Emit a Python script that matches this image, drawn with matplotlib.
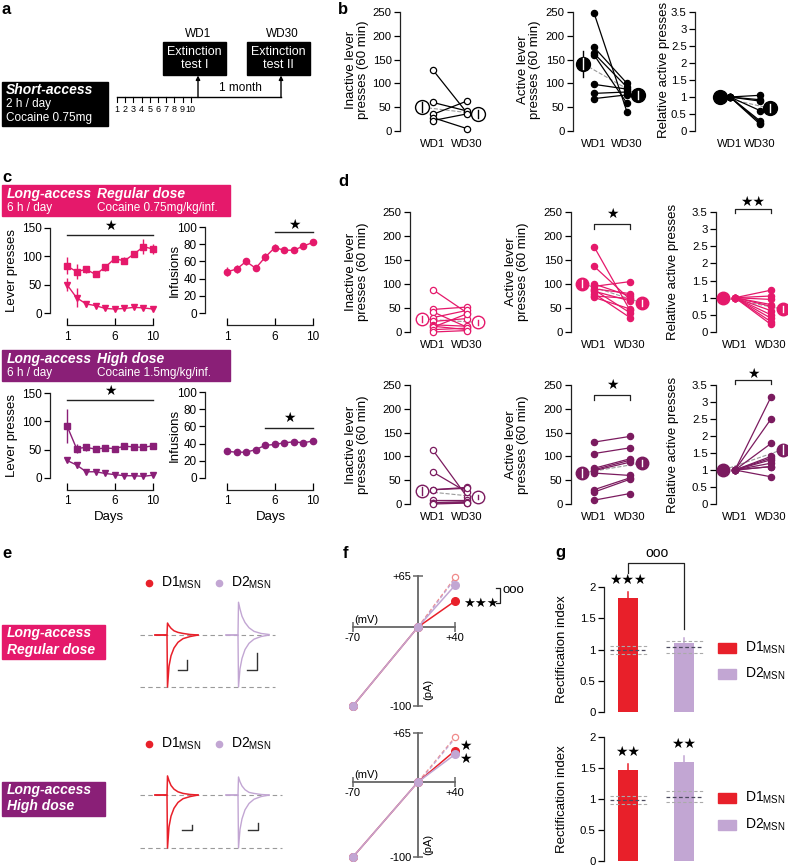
import matplotlib
matplotlib.use('Agg')
import matplotlib.pyplot as plt
from matplotlib.patches import Rectangle

# figure in pixel units (dpi 100)
W, H = 788, 868
plt.rcParams['font.family'] = ['Liberation Sans', 'DejaVu Sans']
plt.rcParams['font.size'] = 9
plt.rcParams['axes.linewidth'] = 0.9
plt.rcParams['axes.edgecolor'] = '#222222'

PINK = '#E5196B'
PURPLE = '#8A1F77'
DPURPLE = '#7B1B5F'
RED = '#E8202A'
LAV = '#C2A6D3'
DGREY = '#9a9a9a'
STAR = 'DejaVu Sans'
TICK_FS = 8.2

# ---- data ----
train_days = list(range(1, 11))
days = list(range(1, 11))

# b: short access
b_inact_wd1 = [128, 60, 35, 28, 22]
b_inact_wd30 = [38, 42, 63, 5, 36]
b_inact_mean = [50, 36]
b_inact_sem = [10, 8]
b_act_wd1 = [248, 176, 163, 160, 98, 79, 68]
b_act_wd30 = [40, 100, 92, 58, 88, 82, 76]
b_act_mean = [141, 76]
b_act_sem = [28, 8]
b_rel_wd1 = [1, 1, 1, 1, 1, 1, 1]
b_rel_wd30 = [1.05, 0.92, 0.88, 0.6, 0.3, 0.25, 0.2]
b_rel_mean = [1, 0.67]
b_rel_sem = [0, 0.12]

# c: acquisition
reg_active = [83, 73, 77, 68, 81, 96, 92, 104, 117, 113]
reg_active_err = [15, 13, 6, 4, 6, 5, 6, 6, 13, 8]
reg_inactive = [50, 27, 16, 13, 8, 7, 8, 10, 9, 7]
reg_inactive_err = [12, 17, 6, 3, 3, 2, 2, 2, 2, 2]
reg_inf = [48, 51, 60, 52, 65, 76, 73, 73, 78, 82]
reg_inf_err = [5, 5, 4, 3, 5, 4, 3, 3, 3, 3]
high_active = [92, 52, 54, 51, 53, 52, 56, 55, 54, 57]
high_active_err = [30, 8, 6, 4, 4, 4, 4, 3, 3, 3]
high_inactive = [31, 23, 11, 11, 8, 6, 4, 4, 3, 5]
high_inactive_err = [3, 5, 3, 2, 2, 2, 2, 1, 2, 2]
high_inf = [31, 30, 30, 33, 38, 39, 41, 42, 41, 43]
high_inf_err = [2, 2, 2, 2, 2, 2, 2, 2, 2, 2]

# d: long access
d_reg_inact_wd1 = [88, 47, 42, 30, 22, 15, 12, 10, 5, 0]
d_reg_inact_wd30 = [40, 52, 10, 45, 28, 12, 5, 38, 8, 3]
d_reg_inact_mean = [27, 20]
d_reg_inact_sem = [6, 5]
d_reg_act_wd1 = [178, 137, 100, 95, 90, 88, 85, 80, 75, 72]
d_reg_act_wd30 = [45, 68, 75, 105, 80, 40, 65, 30, 70, 48]
d_reg_act_mean = [101, 61]
d_reg_act_sem = [8, 6]
d_reg_rel_wd1 = [1] * 10
d_reg_rel_wd30 = [1.22, 1.05, 0.95, 0.8, 0.75, 0.62, 0.5, 0.4, 0.3, 0.22]
d_reg_rel_mean = [1, 0.67]
d_reg_rel_sem = [0, 0.1]

d_high_inact_wd1 = [113, 67, 30, 30, 8, 3, 2, 0]
d_high_inact_wd30 = [15, 25, 35, 33, 8, 5, 3, 2]
d_high_inact_mean = [27, 15]
d_high_inact_sem = [8, 4]
d_high_act_wd1 = [130, 106, 75, 72, 70, 65, 30, 25, 8]
d_high_act_wd30 = [142, 118, 95, 92, 88, 60, 55, 52, 22]
d_high_act_mean = [65, 86]
d_high_act_sem = [8, 7]
d_high_rel_wd1 = [1] * 10
d_high_rel_wd30 = [3.15, 2.5, 1.78, 1.4, 1.35, 1.3, 1.2, 1.1, 1.1, 0.8]
d_high_rel_mean = [1, 1.6]
d_high_rel_sem = [0, 0.15]

# e: example EPSCs (normalised to the -70 mV peak)
trace_t = [-12, 0, 0.5, 2, 4, 7, 11, 16, 23, 31]
d1_neg = [0, 0, -1.0, -0.6, -0.4, -0.25, -0.14, -0.07, -0.03, 0]
d2_neg = [0, 0, -1.0, -0.65, -0.45, -0.28, -0.16, -0.08, -0.03, 0]
d1_reg_pos = [0, 0, 0.23, 0.18, 0.13, 0.08, 0.05, 0.03, 0.01, 0]
d2_reg_pos = [0, 0, 0.63, 0.5, 0.36, 0.24, 0.14, 0.07, 0.03, 0.01]
d1_high_pos = [0, 0, 0.36, 0.27, 0.18, 0.11, 0.06, 0.03, 0.01, 0]
d2_high_pos = [0, 0, 0.34, 0.25, 0.17, 0.1, 0.05, 0.03, 0.01, 0]

# f: I-V
iv_mv = [-70, 0, 40]
iv_reg_d1 = [-100, 0, 33]
iv_reg_d2 = [-100, 0, 53]
iv_reg_ctrl = [0, 63]
iv_high_d1 = [-100, 0, 42]
iv_high_d2 = [-100, 0, 37]
iv_high_ctrl = [0, 60]

# g: rectification index
g_groups = ['D1', 'D2']
g_reg = [1.82, 1.10]
g_reg_sem = [0.1, 0.08]
g_high = [1.46, 1.59]
g_high_sem = [0.1, 0.1]
ctrl_ri = [0.99, 1.04]
ctrl_ri_sem = [0.065, 0.095]

fig = plt.figure(figsize=(W / 100, H / 100), dpi=100)

ov = fig.add_axes([0, 0, 1, 1])
ov.set_xlim(0, W)
ov.set_ylim(H, 0)
ov.axis('off')


def add_px(left, top, width, height):
    ax = fig.add_axes([left / W, 1 - (top + height) / H, width / W, height / H])
    ax.patch.set_visible(False)
    return ax


def left_only(ax, ymax, yticks, ylabels=None):
    for s in ['top', 'right', 'bottom']:
        ax.spines[s].set_visible(False)
    ax.spines['left'].set_bounds(0, ymax)
    ax.set_ylim(0, ymax)
    ax.set_yticks(yticks)
    if ylabels is not None:
        ax.set_yticklabels(ylabels)
    ax.tick_params(axis='y', length=4, width=0.9, pad=2, labelsize=TICK_FS)


MO = 0.32


def pair_panel(spine, wd1, wd30, right, top, bottom, ymax, yticks, ylabels,
               v1, v30, mean, sem, color, filled, ms_mean=10):
    unit = wd30 - wd1
    ax = add_px(spine, top, right - spine, bottom - top)
    ax.set_xlim(-(wd1 - spine) / unit, (right - wd1) / unit)
    left_only(ax, ymax, yticks, ylabels)
    ax.set_xticks([0, 1])
    ax.set_xticklabels(['WD1', 'WD30'])
    ax.tick_params(axis='x', length=0, pad=6, labelsize=TICK_FS)
    for a, b in zip(v1, v30):
        ax.plot([0, 1], [a, b], color=color, lw=0.9, marker='o', ms=4.5,
                mfc=color if filled else 'white', mec=color, mew=0.9,
                clip_on=False, zorder=2)
    xs = [-MO, 1 + MO]
    ax.plot(xs, mean, ls='--', color=DGREY, lw=0.8, zorder=1)
    r = (ms_mean / 72 * 100 / 2 - 1.5) * ymax / (bottom - top)
    for x, m, e in zip(xs, mean, sem):
        if e > 0:
            ax.plot([x, x], [m - e, m + e], color=color, lw=1, zorder=3, clip_on=False)
        ax.plot(x, m, 'o', ms=ms_mean, mfc=color if filled else 'white', mec=color,
                mew=1, zorder=4, clip_on=False)
        if e > 0:
            inner = min(e, r)
            ax.plot([x, x], [m - inner, m + inner], color='white' if filled else color,
                    lw=1, zorder=5, clip_on=False)
    return ax


def bracket(ax, y0, y1, label, ly, fs=10):
    ax.plot([0, 0, 1, 1], [y0, y1, y1, y0], color='#222222', lw=0.9, clip_on=False)
    ax.text(0.5, ly, label, ha='center', va='center', fontsize=fs, family=STAR)


# ---- panel labels ----
for lab, x, y in [('a', 2, 10), ('b', 338, 9), ('c', 2, 178), ('d', 338, 182),
                  ('e', 2, 553), ('f', 343, 553), ('g', 555, 553)]:
    ov.text(x, y, lab, fontsize=12, fontweight='bold', va='center', ha='left')

# ---- a: schedule ----
ov.add_patch(Rectangle((2, 82), 106, 44, color='black'))
ov.text(6, 90, 'Short-access', color='white', fontsize=10, fontweight='bold',
        style='italic', va='center')
ov.text(6, 104, '2 h / day', color='white', fontsize=8.5, va='center')
ov.text(6, 118, 'Cocaine 0.75mg', color='white', fontsize=8.5, va='center')
for x0, lab, top_lab in [(163, 'Extinction\ntest I', 'WD1'), (247, 'Extinction\ntest II', 'WD30')]:
    ov.add_patch(Rectangle((x0, 42), 63, 33, color='black'))
    ov.text(x0 + 31.5, 58.5, lab, color='white', fontsize=9, ha='center', va='center',
            linespacing=1.05)
    ov.text(x0 + 35, 34, top_lab, fontsize=8.5, ha='center', va='center')
tick_x = [117 + (d - 1) * 8.2 for d in train_days]
ov.plot([tick_x[0], 281], [97, 97], color='black', lw=1)
for x, d in zip(tick_x, train_days):
    ov.plot([x, x], [97, 101.5], color='black', lw=0.8)
    ov.text(x, 110, str(d), fontsize=6.5, ha='center', va='center')
for x in [198, 281]:
    ov.annotate('', xy=(x, 75.5), xytext=(x, 97.5),
                arrowprops=dict(arrowstyle='-|>', color='black', lw=1, mutation_scale=6,
                                shrinkA=0, shrinkB=0))
ov.text(240, 88, '1 month', fontsize=8.5, ha='center', va='center')

# ---- b ----
pair_panel(400, 433, 467, 492, 12, 131, 250, range(0, 251, 50), None,
           b_inact_wd1, b_inact_wd30, b_inact_mean, b_inact_sem, 'black', False)
pair_panel(573, 594, 627, 650, 12, 131, 250, range(0, 251, 50), None,
           b_act_wd1, b_act_wd30, b_act_mean, b_act_sem, 'black', True)
rel_ticks = [0, 0.5, 1, 1.5, 2, 2.5, 3, 3.5]
rel_labels = ['0', '0.5', '1', '1.5', '2', '2.5', '3', '3.5']
pair_panel(695, 730, 760, 785, 12, 131, 3.5, rel_ticks, rel_labels,
           b_rel_wd1, b_rel_wd30, b_rel_mean, b_rel_sem, 'black', True)
ov.text(357, 70, 'Inactive lever\npresses (60 min)', rotation=90, ha='center', va='center',
        fontsize=9.5, linespacing=1.1)
ov.text(529, 70, 'Active lever\npresses (60 min)', rotation=90, ha='center', va='center',
        fontsize=9.5, linespacing=1.1)
ov.text(664, 70, 'Relative active presses', rotation=90, ha='center', va='center', fontsize=9.5)

# ---- c ----
def course_axes(spine, d1, d10, right, top, bottom, ymax, yticks):
    unit = (d10 - d1) / 9
    ax = add_px(spine, top, right - spine, bottom - top)
    ax.set_xlim(1 - (d1 - spine) / unit, 10 + (right - d10) / unit)
    ax.set_ylim(0, ymax)
    for s in ['top', 'right']:
        ax.spines[s].set_visible(False)
    ax.spines['left'].set_bounds(0, ymax)
    ax.spines['bottom'].set_position(('outward', 8.6))
    ax.spines['bottom'].set_bounds(1, 10)
    ax.set_xticks([1, 6, 10])
    ax.set_yticks(yticks)
    ax.tick_params(axis='x', direction='in', length=5, width=0.9, pad=4, labelsize=8.5)
    ax.tick_params(axis='y', length=4, width=0.9, pad=2, labelsize=8.5)
    return ax


def star_bar(ax, x0, x1, y, ys):
    ax.plot([x0, x1], [y, y], color='#222222', lw=1, clip_on=False)
    ax.text((x0 + x1) / 2, ys, '\u2605', ha='center', va='center', fontsize=10, family=STAR)


for top_box, color, dose, coc, (act, act_e, ina, ina_e, inf, inf_e), t1, b1, t2, b2, s1, s2 in [
        (185, PINK, 'Regular dose', 'Cocaine 0.75mg/kg/inf.',
         (reg_active, reg_active_err, reg_inactive, reg_inactive_err, reg_inf, reg_inf_err),
         228, 313, 227, 313, (1, 10, 137, 154), (6, 10, 94, 102)),
        (350, PURPLE, 'High dose', 'Cocaine 1.5mg/kg/inf.',
         (high_active, high_active_err, high_inactive, high_inactive_err, high_inf, high_inf_err),
         393, 478, 392, 478, (1, 10, 137, 154), (5, 10, 58, 70))]:
    ov.add_patch(Rectangle((2, top_box), 228, 31, color=color))
    ov.text(7, top_box + 9, 'Long-access', color='white', fontsize=10, fontweight='bold',
            style='italic', va='center')
    ov.text(97, top_box + 9, dose, color='white', fontsize=10, fontweight='bold',
            style='italic', va='center')
    ov.text(7, top_box + 23, '6 h / day', color='white', fontsize=8.5, va='center')
    ov.text(97, top_box + 23, coc, color='white', fontsize=8.5, va='center')

    ax = course_axes(50, 67, 153, 162, t1, b1, 150, [0, 50, 100, 150])
    ax.errorbar(days, act, yerr=act_e, color=color, marker='s', ms=4.5, lw=1,
                elinewidth=1, capsize=0, clip_on=False)
    ax.errorbar(days, ina, yerr=ina_e, color=color, marker='v', ms=5, lw=1,
                elinewidth=1, capsize=0, clip_on=False)
    star_bar(ax, *s1)
    ov.text(12, (t1 + b1) / 2, 'Lever presses', rotation=90, ha='center', va='center', fontsize=9.5)

    ax = course_axes(205, 227, 313, 322, t2, b2, 100, [0, 20, 40, 60, 80, 100])
    ax.errorbar(days, inf, yerr=inf_e, color=color, marker='o', ms=4.5, lw=1,
                elinewidth=1, capsize=0, clip_on=False)
    star_bar(ax, *s2)
    ov.text(175, (t2 + b2) / 2, 'Infusions', rotation=90, ha='center', va='center', fontsize=9.5)

ov.text(109, 517, 'Days', ha='center', va='center', fontsize=9.5)
ov.text(271, 517, 'Days', ha='center', va='center', fontsize=9.5)

# ---- d ----
for (top, bottom, color, data) in [
        (212, 332, PINK,
         [(d_reg_inact_wd1, d_reg_inact_wd30, d_reg_inact_mean, d_reg_inact_sem),
          (d_reg_act_wd1, d_reg_act_wd30, d_reg_act_mean, d_reg_act_sem),
          (d_reg_rel_wd1, d_reg_rel_wd30, d_reg_rel_mean, d_reg_rel_sem)]),
        (385, 504, DPURPLE,
         [(d_high_inact_wd1, d_high_inact_wd30, d_high_inact_mean, d_high_inact_sem),
          (d_high_act_wd1, d_high_act_wd30, d_high_act_mean, d_high_act_sem),
          (d_high_rel_wd1, d_high_rel_wd30, d_high_rel_mean, d_high_rel_sem)])]:
    a1 = pair_panel(410, 433, 467, 492, top, bottom, 250, range(0, 251, 50), None,
                    *data[0], color, False, ms_mean=9)
    a2 = pair_panel(571, 594, 630, 650, top, bottom, 250, range(0, 251, 50), None,
                    *data[1], color, True, ms_mean=9)
    a3 = pair_panel(716, 735, 771, 788, top, bottom, 3.5, rel_ticks, rel_labels,
                    *data[2], color, True, ms_mean=9)
    mid = (top + bottom) / 2
    ov.text(357, mid, 'Inactive lever\npresses (60 min)', rotation=90, ha='center',
            va='center', fontsize=9.5, linespacing=1.1)
    ov.text(517, mid, 'Active lever\npresses (60 min)', rotation=90, ha='center',
            va='center', fontsize=9.5, linespacing=1.1)
    ov.text(673, mid, 'Relative active presses', rotation=90, ha='center', va='center',
            fontsize=9.5)
    if color == PINK:
        bracket(a2, 215, 226, '\u2605', 247)
        bracket(a3, 3.48, 3.6, '\u2605\u2605', 3.78)
    else:
        bracket(a2, 219, 230, '\u2605', 251)
        bracket(a3, 3.52, 3.64, '\u2605', 3.84)

# ---- e ----
for top_box, color in [(625, PINK), (782, PURPLE)]:
    ov.add_patch(Rectangle((2, top_box), 103, 34, color=color))
lab_e = [('Long-access', 633), ('Regular dose', 650), ('Long-access', 790), ('High dose', 806)]
for txt, y in lab_e:
    ov.text(7, y, txt, color='white', fontsize=10, fontweight='bold', style='italic', va='center')

for ly in [583, 744]:
    ov.plot(149, ly, 'o', color=RED, ms=4.5)
    ov.text(161, ly, r'D1$_{\mathregular{MSN}}$', fontsize=10, va='center')
    ov.plot(219, ly, 'o', color=LAV, ms=4.5)
    ov.text(231, ly, r'D2$_{\mathregular{MSN}}$', fontsize=10, va='center')

for top, bottom, zero, unit, dash_end, d1p, d2p in [
        (595, 692, 635, 52, 135, d1_reg_pos, d2_reg_pos),
        (757, 852, 795, 53, 142, d1_high_pos, d2_high_pos)]:
    ax = add_px(140, top, 145, bottom - top)
    ax.set_xlim(0, 145)
    ax.set_ylim(-(bottom - zero) / unit, (zero - top) / unit)
    ax.axis('off')
    ax.plot([0, dash_end], [0, 0], ls='--', color=DGREY, lw=0.8, dashes=(4, 3))
    ax.plot([0, dash_end], [-1, -1], ls='--', color=DGREY, lw=0.8, dashes=(4, 3))
    for off, neg, pos, color, lw in [(27, d1_neg, d1p, RED, 1.1), (98, d2_neg, d2p, LAV, 1.0)]:
        ts = [off + t for t in trace_t]
        ax.plot(ts, neg, color=color, lw=lw)
        ax.plot(ts, pos, color=color, lw=lw)

# scale bars
for x0, x1, y0, y1 in [(178, 187, 660, 670), (247, 257, 653, 670),
                       (182, 192, 825, 830), (248, 258, 823, 830)]:
    ov.plot([x0, x1, x1], [y1, y1, y0], color='#333333', lw=1)

# ---- f ----
def iv_axes(ox, oy, sx, sy, left, right, top, bottom):
    ax = add_px(left, top, right - left, bottom - top)
    ax.set_xlim((left - ox) / sx, (right - ox) / sx)
    ax.set_ylim(-(bottom - oy) / sy, (oy - top) / sy)
    for s in ['top', 'right']:
        ax.spines[s].set_visible(False)
    ax.spines['left'].set_position(('data', 0))
    ax.spines['bottom'].set_position(('data', 0))
    ax.spines['left'].set_bounds(-100, 65)
    ax.spines['bottom'].set_bounds(-70, 40)
    for s in ['left', 'bottom']:
        ax.spines[s].set_color('#666666')
        ax.spines[s].set_linewidth(1.3)
    ax.set_xticks([-70, 40])
    ax.set_xticklabels(['-70', '+40'])
    ax.set_yticks([-100, 65])
    ax.set_yticklabels(['-100', '+65'])
    ax.tick_params(direction='inout', length=7, width=1.1, color='#666666', labelsize=8, pad=1)
    return ax


for ox, oy, sy, top, bottom, d1, d2, ctrl in [
        (418, 627, 0.79, 568, 712, iv_reg_d1, iv_reg_d2, iv_reg_ctrl),
        (418, 782, 0.75, 725, 862, iv_high_d1, iv_high_d2, iv_high_ctrl)]:
    ax = iv_axes(ox, oy, 0.93, sy, 340, 472, top, bottom)
    ax.plot([0, 40], ctrl, ls='--', color='#F08A8A', lw=0.9, dashes=(3, 2))
    ax.plot([0, 40], [c - 1.5 for c in ctrl], ls='--', color=LAV, lw=0.9, dashes=(3, 2))
    ax.plot(40, ctrl[1], 'o', ms=4.5, mfc='white', mec='#F08A8A', mew=0.9, clip_on=False)
    ax.plot(iv_mv, d1, color=RED, lw=1.1, marker='o', ms=5.5, clip_on=False, zorder=3)
    ax.plot(iv_mv, d2, color=LAV, lw=1.1, marker='o', ms=5.5, clip_on=False, zorder=4)
    ov.text(354, oy - 7, '(mV)', fontsize=8, ha='left', va='center')
    ov.text(428, oy + 62, '(pA)', fontsize=8, rotation=90, ha='center', va='center')
    if oy == 627:
        ov.text(463, 603, '\u2605\u2605\u2605', family=STAR, fontsize=9.5, va='center')
        ov.plot([496, 500, 500, 496], [588, 588, 603, 603], color='#222222', lw=0.9)
        ov.text(503, 590, 'ooo', fontsize=9.5, va='center')
    else:
        ov.text(465, 746, '\u2605', family=STAR, fontsize=10, va='center', ha='center')
        ov.text(465, 759, '\u2605', family=STAR, fontsize=10, va='center', ha='center')

# ---- g ----
for top, bottom, means, sems, stars in [
        (587, 712, g_reg, g_reg_sem, ['\u2605\u2605\u2605', '']),
        (737, 861, g_high, g_high_sem, ['\u2605\u2605', '\u2605\u2605'])]:
    unit = 684 - 628
    ax = add_px(604, top, 712 - 604, bottom - top)
    ax.set_xlim(-(628 - 604) / unit, (712 - 628) / unit)
    left_only(ax, 2, [0, 0.5, 1, 1.5, 2], ['0', '0.5', '1', '1.5', '2'])
    ax.set_xticks([])
    ax.bar([0, 1], means, width=0.34, color=[RED, LAV], zorder=2)
    for i, (m, e, c) in enumerate(zip(means, sems, [RED, LAV])):
        ax.plot([i, i], [m, m + e], color=c, lw=1.1, zorder=2)
        ax.text(i, m + e + 0.2, stars[i], ha='center', va='center', fontsize=10, family=STAR)
    for i, (c, s) in enumerate(zip(ctrl_ri, ctrl_ri_sem)):
        ax.plot([i - 0.32, i + 0.34], [c, c], ls='--', color='#4c4a5e', lw=0.9,
                dashes=(3, 2), zorder=3)
        for v in (c - s, c + s):
            ax.plot([i - 0.32, i + 0.34], [v, v], ls='--', color='#aaaaaa', lw=0.8,
                    dashes=(3, 2), zorder=3)
    if top == 587:
        ax.plot([0, 0, 1, 1], [2.22, 2.38, 2.38, 1.33], color='#222222', lw=0.9, clip_on=False)
        ax.text(0.52, 2.55, 'ooo', ha='center', va='center', fontsize=10)
    ov.text(562, (top + bottom) / 2, 'Rectification index', rotation=90, ha='center',
            va='center', fontsize=9.5)

for y1, y2 in [(648, 674), (798, 825)]:
    for y, c, lab in [(y1, RED, r'D1$_{\mathregular{MSN}}$'), (y2, LAV, r'D2$_{\mathregular{MSN}}$')]:
        ov.add_patch(Rectangle((718, y - 5), 18, 10, color=c))
        ov.text(745, y, lab, fontsize=10, va='center')

fig.savefig('out.png', dpi=100)
